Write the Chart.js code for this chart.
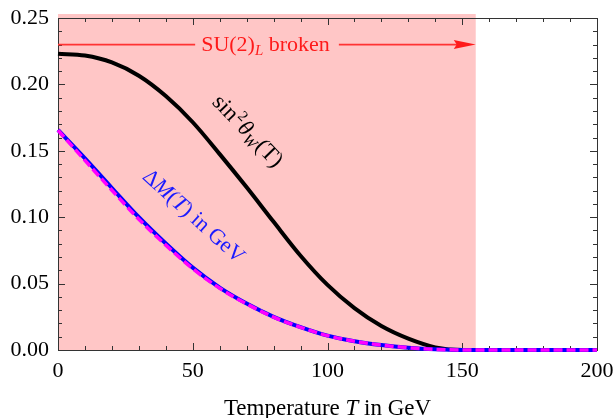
<!DOCTYPE html>
<html><head><meta charset="utf-8">
<script src="https://cdn.jsdelivr.net/npm/chart.js@4.4.1/dist/chart.umd.min.js"></script>
<style>html,body{margin:0;padding:0;background:#fff;} #wrap{width:616px;height:418px;}</style>
</head><body><div id="wrap"><canvas id="c" width="616" height="418"></canvas></div>
<script>
// ---- data ----
const temperatures = [0, 10, 20, 30, 40, 50, 60, 70, 80, 90, 100, 110, 120, 130, 140, 150, 160, 170, 180, 190, 200];
const sin2ThetaW   = [0.2231, 0.2217, 0.2165, 0.2065, 0.1912, 0.1715, 0.1475, 0.1225, 0.0965, 0.0710, 0.0490, 0.0315, 0.0180, 0.0085, 0.0020, 0, 0, 0, 0, 0, 0];
const deltaM       = [0.1657, 0.1443, 0.1220, 0.1000, 0.0802, 0.0620, 0.0470, 0.0350, 0.0250, 0.0172, 0.0108, 0.0066, 0.0037, 0.0017, 0.0005, 0, 0, 0, 0, 0, 0];
const deltaMApprox = [0.1655, 0.1428, 0.1203, 0.0985, 0.0790, 0.0612, 0.0465, 0.0347, 0.0248, 0.0171, 0.0108, 0.0066, 0.0037, 0.0017, 0.0005, 0, 0, 0, 0, 0, 0];
const brokenRange  = [0, 155];     // shaded SU(2)_L broken region (T)
const brokenTop    = 0.253;
const arrowLevel   = 0.23;
const arrowLabelT  = 77;
const sinLabelAt   = {x: 70.5, y: 0.165};
const dmLabelAt    = {x: 50.5, y: 0.101};
const xAxisTitle   = ["Temperature ", "T", " in GeV"];

const SERIF = '"Liberation Serif", "Times New Roman", serif';
const fnt = (size, italic) => (italic ? 'italic ' : '') + size + 'px ' + SERIF;
function runsWidth(ctx, runs) { let w = 0; for (const r of runs) { ctx.font = r.font; w += ctx.measureText(r.t).width + (r.gap || 0); } return w; }
function drawRuns(ctx, runs, x, y) { let cx = x; for (const r of runs) { ctx.font = r.font; ctx.fillText(r.t, cx, y + (r.dy || 0)); cx += ctx.measureText(r.t).width + (r.gap || 0); } }

const decor = {
  id: 'decor',
  beforeDatasetsDraw(chart) {
    const {ctx, chartArea: a, scales: {x: xs, y: ys}} = chart;
    ctx.save();
    const x0 = xs.getPixelForValue(brokenRange[0]), x1 = xs.getPixelForValue(brokenRange[1]);
    const yt = ys.getPixelForValue(brokenTop), yb = ys.getPixelForValue(0);
    ctx.fillStyle = 'rgb(255,198,198)';
    ctx.fillRect(x0, yt, x1 - x0, yb - yt);
    ctx.strokeStyle = '#333';
    ctx.lineWidth = 1;
    ctx.strokeRect(Math.round(a.left) + 0.5, Math.round(a.top) + 0.5, Math.round(a.right - a.left), Math.round(a.bottom - a.top));
    ctx.beginPath();
    for (const t of xs.ticks) {
      const px = Math.round(xs.getPixelForValue(t.value)) + 0.5;
      const len = (Math.round(t.value) % 50 === 0) ? 7 : 4;
      ctx.moveTo(px, a.bottom); ctx.lineTo(px, a.bottom - len);
      ctx.moveTo(px, a.top); ctx.lineTo(px, a.top + len);
    }
    for (const t of ys.ticks) {
      const py = Math.round(ys.getPixelForValue(t.value)) + 0.5;
      const len = (Math.round(t.value * 100) % 5 === 0) ? 7 : 4;
      ctx.moveTo(a.left, py); ctx.lineTo(a.left + len, py);
      ctx.moveTo(a.right, py); ctx.lineTo(a.right - len, py);
    }
    ctx.stroke();
    ctx.restore();
  },
  afterDatasetsDraw(chart) {
    const {ctx, chartArea: a, scales: {x: xs, y: ys}} = chart;
    ctx.save();
    ctx.textBaseline = 'alphabetic';
    const ay = ys.getPixelForValue(arrowLevel);
    const ax0 = xs.getPixelForValue(brokenRange[0]);
    const ax1 = xs.getPixelForValue(brokenRange[1]);
    const cx = xs.getPixelForValue(arrowLabelT);
    const suRuns = [{t: 'SU(2)', font: fnt(22)}, {t: 'L', font: fnt(15, true), dy: 4}, {t: ' broken', font: fnt(22)}];
    const sw = runsWidth(ctx, suRuns);
    ctx.fillStyle = '#ff1a1a';
    drawRuns(ctx, suRuns, cx - sw / 2, ay + 6);
    ctx.strokeStyle = '#ff3333';
    ctx.lineWidth = 1.7;
    ctx.beginPath();
    ctx.moveTo(ax0, ay); ctx.lineTo(cx - sw / 2 - 6, ay);
    ctx.moveTo(cx + sw / 2 + 9, ay); ctx.lineTo(ax1 - 18, ay);
    ctx.stroke();
    ctx.beginPath();
    ctx.moveTo(ax1, ay); ctx.lineTo(ax1 - 22, ay - 4.5); ctx.lineTo(ax1 - 19, ay); ctx.lineTo(ax1 - 22, ay + 4.5); ctx.closePath();
    ctx.fill();

    const sinRuns = [{t: 'sin', font: fnt(23), gap: 1}, {t: '2', font: fnt(15), dy: -9, gap: 1}, {t: 'θ', font: fnt(23, true)}, {t: 'W', font: fnt(16, true), dy: 4, gap: 1}, {t: '(T)', font: fnt(23)}];
    ctx.save();
    ctx.translate(xs.getPixelForValue(sinLabelAt.x), ys.getPixelForValue(sinLabelAt.y));
    ctx.rotate(46 * Math.PI / 180);
    ctx.fillStyle = '#000';
    drawRuns(ctx, sinRuns, -runsWidth(ctx, sinRuns) / 2, 7);
    ctx.restore();

    const dmRuns = [{t: 'Δ', font: fnt(22)}, {t: 'M', font: fnt(22, true)}, {t: '(', font: fnt(22)}, {t: 'T', font: fnt(22, true)}, {t: ') in GeV', font: fnt(22)}];
    ctx.save();
    ctx.translate(xs.getPixelForValue(dmLabelAt.x), ys.getPixelForValue(dmLabelAt.y));
    ctx.rotate(42 * Math.PI / 180);
    ctx.fillStyle = '#1a1aff';
    drawRuns(ctx, dmRuns, -runsWidth(ctx, dmRuns) / 2, 7);
    ctx.restore();

    const tRuns = [{t: xAxisTitle[0], font: fnt(23)}, {t: xAxisTitle[1], font: fnt(23, true)}, {t: xAxisTitle[2], font: fnt(23)}];
    ctx.fillStyle = '#000';
    drawRuns(ctx, tRuns, (a.left + a.right) / 2 - runsWidth(ctx, tRuns) / 2, xs.bottom - 3);
    ctx.restore();
  }
};

const pts = arr => temperatures.map((t, i) => ({x: t, y: arr[i]}));
new Chart(document.getElementById('c'), {
  type: 'line',
  data: {
    datasets: [
      {label: 'ΔM approx', data: pts(deltaMApprox), borderColor: '#ff00ff', borderWidth: 3.5, borderDash: [9, 4], pointRadius: 0, cubicInterpolationMode: 'monotone', clip: false, order: 1},
      {label: 'ΔM', data: pts(deltaM), borderColor: '#0000ff', borderWidth: 4, pointRadius: 0, cubicInterpolationMode: 'monotone', clip: false, order: 2},
      {label: 'sin2θW', data: pts(sin2ThetaW), borderColor: '#000000', borderWidth: 4, pointRadius: 0, cubicInterpolationMode: 'monotone', clip: false, order: 3}
    ]
  },
  options: {
    responsive: false, animation: false, devicePixelRatio: 1,
    layout: {padding: {top: 18, right: 19, left: 0, bottom: 0}},
    plugins: {legend: {display: false}, tooltip: {enabled: false}},
    scales: {
      x: {
        type: 'linear', min: 0, max: 200,
        grid: {display: false, drawTicks: false}, border: {display: false},
        ticks: {stepSize: 10, autoSkip: false, maxRotation: 0, padding: 8, color: '#000', font: {family: SERIF, size: 22},
          callback: v => (Math.round(v) % 50 === 0 ? String(Math.round(v)) : '')},
        afterFit: s => { s.height = 68; s.paddingLeft = 0; s.paddingRight = 0; }
      },
      y: {
        min: 0, max: 0.25,
        grid: {display: false, drawTicks: false}, border: {display: false},
        ticks: {stepSize: 0.01, autoSkip: false, padding: 9, color: '#000', font: {family: SERIF, size: 22},
          callback: v => (Math.round(v * 100) % 5 === 0 ? v.toFixed(2) : '')},
        afterFit: s => { s.width = 58; s.paddingTop = 0; s.paddingBottom = 0; }
      }
    }
  },
  plugins: [decor]
});
</script>
</body></html>
